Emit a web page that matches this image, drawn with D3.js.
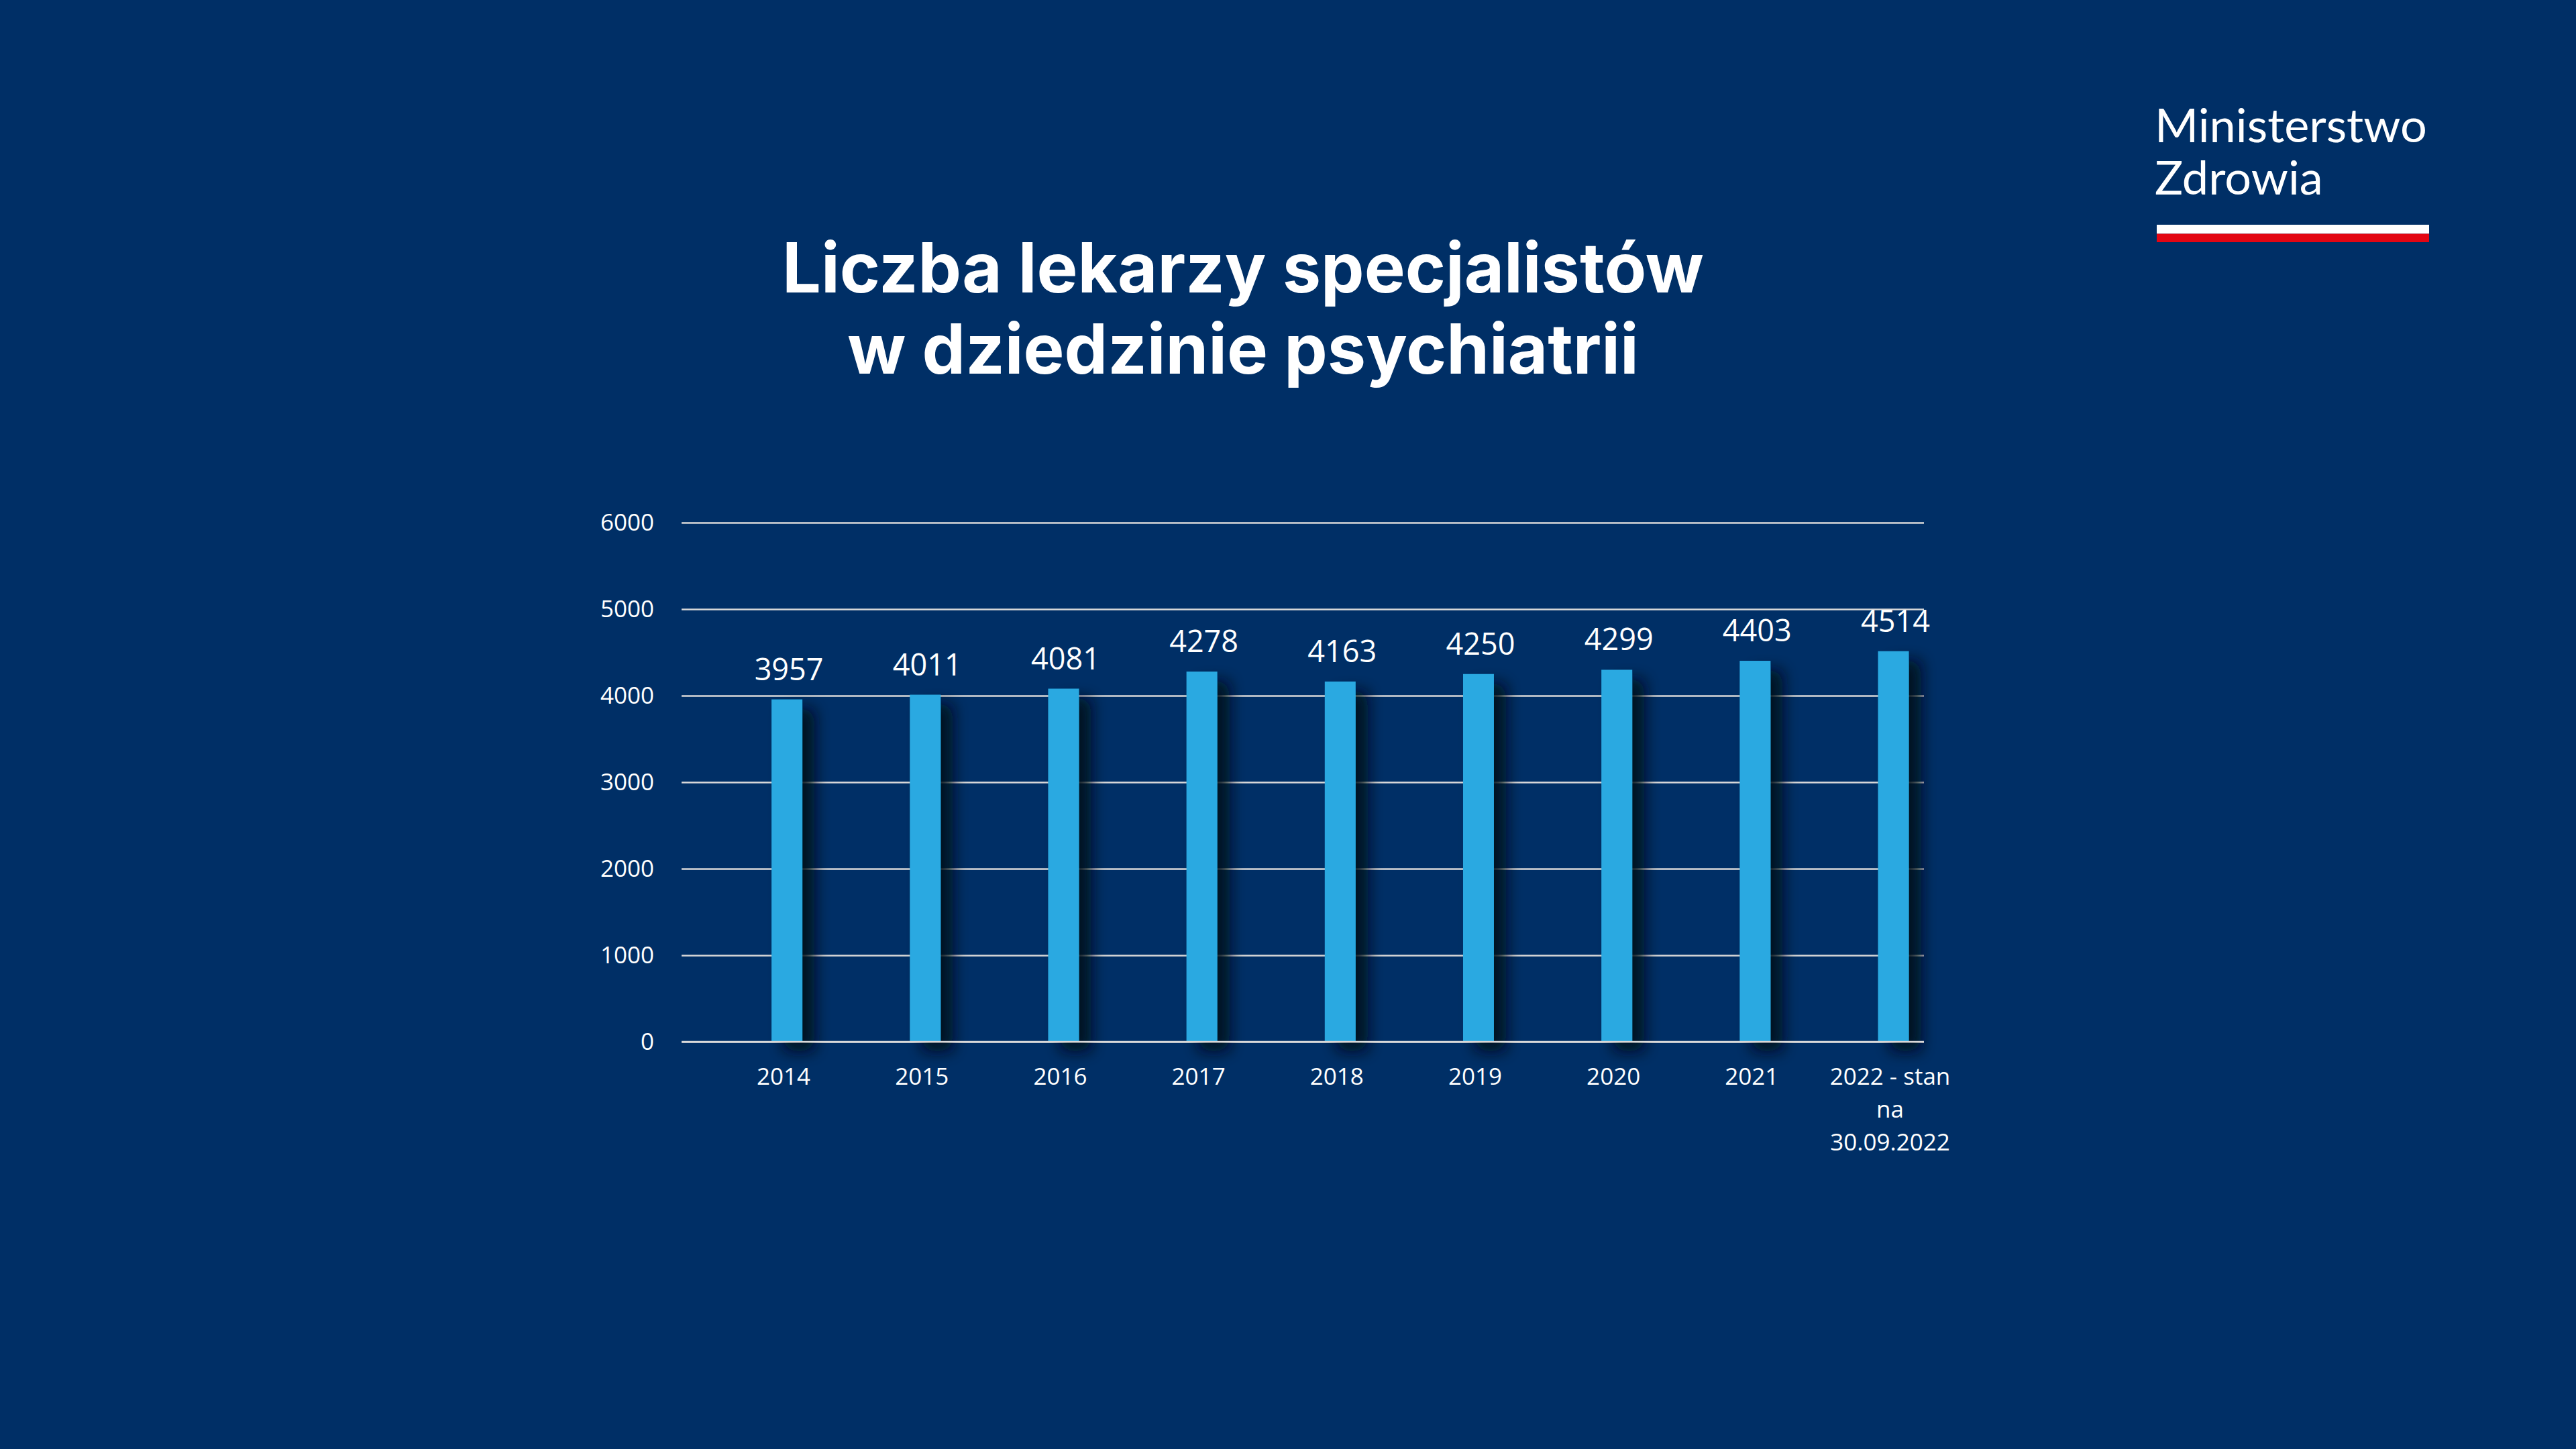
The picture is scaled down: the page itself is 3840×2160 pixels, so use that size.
<!DOCTYPE html>
<html><head><meta charset="utf-8">
<script src="https://cdn.jsdelivr.net/npm/d3@7"></script>
<style>html,body{margin:0;padding:0;background:#002f66;overflow:hidden}</style>
</head><body>
<svg id="c" width="3840" height="2160" xmlns="http://www.w3.org/2000/svg"></svg>
<script>
const categories = ["2014","2015","2016","2017","2018","2019","2020","2021","2022 - stan na 30.09.2022"];
const values = [3957,4011,4081,4278,4163,4250,4299,4403,4514];
const yTicks = [0,1000,2000,3000,4000,5000,6000];
const titleLines = ["Liczba lekarzy specjalistów","w dziedzinie psychiatrii"];
const logoLines = ["Ministerstwo","Zdrowia"];

const BG = "#002f66", BAR = "#29a9e1", GRID = "#d9d9d9";
const svg = d3.select("#c");
svg.append("rect").attr("width",3840).attr("height",2160).attr("fill",BG);

const defs = svg.append("defs");
const f = defs.append("filter").attr("id","sh")
  .attr("x","-60%").attr("y","-10%").attr("width","300%").attr("height","130%");
f.append("feDropShadow").attr("dx",18).attr("dy",14).attr("stdDeviation",11)
  .attr("flood-color","#000814").attr("flood-opacity",0.9);

const gridX0 = 1016, gridX1 = 2868;
const x = d3.scaleBand().domain(categories).range([1070,2925.6]).paddingInner(0.777).paddingOuter(0.3885);
const y = d3.scaleLinear().domain([0,6000]).range([1553,779]);

// y axis with gridlines
const gy = svg.append("g").attr("transform",`translate(${gridX0},0)`)
  .call(d3.axisLeft(y).tickValues(yTicks).tickSize(-(gridX1-gridX0)).tickPadding(41).tickFormat(d3.format("d")));
gy.select(".domain").remove();
gy.selectAll(".tick line").attr("stroke",GRID).attr("stroke-width",2.5);
gy.selectAll(".tick text").attr("fill","#fff").attr("font-family","'Open Sans', sans-serif").attr("font-size",35);

// bars
svg.append("g").selectAll("rect").data(values).join("rect")
  .attr("x",(d,i)=>x(categories[i])).attr("width",x.bandwidth())
  .attr("y",d=>y(d)).attr("height",d=>y(0)-y(d))
  .attr("fill",BAR).attr("filter","url(#sh)");

// baseline on top
svg.append("line").attr("x1",gridX0).attr("x2",gridX1).attr("y1",y(0)).attr("y2",y(0))
  .attr("stroke",GRID).attr("stroke-width",2.5);

// value labels
svg.append("g").selectAll("text").data(values).join("text")
  .attr("x",(d,i)=>x(categories[i])+x.bandwidth()/2+3).attr("y",d=>y(d)-29)
  .attr("text-anchor","middle").attr("fill","#fff")
  .attr("font-family","'Open Sans', sans-serif").attr("font-size",45)
  .text(d=>d);

// x axis
const gx = svg.append("g").attr("transform",`translate(-5,${y(0)})`)
  .call(d3.axisBottom(x).tickSize(0).tickPadding(0));
gx.select(".domain").remove();
gx.selectAll(".tick text").each(function(d){
  const t = d3.select(this);
  t.text(null).attr("y",0).attr("dy",null).attr("fill","#fff")
   .attr("font-family","'Open Sans', sans-serif").attr("font-size",35);
  const words = d.split(" ");
  const lines = []; let cur = "";
  const probe = t.append("tspan");
  words.forEach(w=>{
    const test = cur ? cur + " " + w : w;
    probe.text(test);
    if (probe.node().getComputedTextLength() > 200 && cur) { lines.push(cur); cur = w; }
    else cur = test;
  });
  lines.push(cur);
  probe.remove();
  lines.forEach((l,i)=> t.append("tspan").attr("x",0).attr("y",64 + i*49).text(l));
});

// title
const title = svg.append("g").attr("fill","#fff").attr("text-anchor","middle")
  .attr("font-family","Inter, 'Noto Sans', sans-serif").attr("font-weight",700);
const tl = title.selectAll("text").data(titleLines).join("text")
  .attr("x",1853).attr("y",(d,i)=>[436,557][i]).attr("font-size",100).text(d=>d);
const w0 = tl.nodes()[0].getComputedTextLength();
tl.attr("font-size",100*1374/w0);

// logo
const logo = svg.append("g").attr("fill","#fff").attr("font-family","Lato, sans-serif");
const ll = logo.selectAll("text").data(logoLines).join("text")
  .attr("x",3212).attr("y",(d,i)=>[212,290][i]).attr("font-size",71).text(d=>d);
const lw = ll.nodes()[0].getComputedTextLength();
ll.attr("font-size",71*406/lw);
svg.append("rect").attr("x",3215).attr("y",335).attr("width",406).attr("height",13.5).attr("fill","#ffffff");
svg.append("rect").attr("x",3215).attr("y",348.5).attr("width",406).attr("height",12.5).attr("fill","#e30613");
</script>
</body></html>
